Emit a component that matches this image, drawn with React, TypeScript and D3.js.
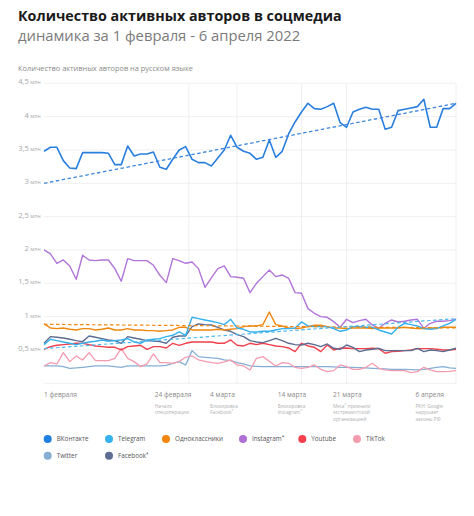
import React from "react";
import * as d3 from "d3";

const W = 474;
const H = 516;

// ---- data (millions of active authors, daily, 1 Feb – 6 Apr 2022) ----
const vkontakte = [3.48,3.54,3.54,3.34,3.23,3.22,3.46,3.46,3.46,3.46,3.45,3.28,3.28,3.56,3.41,3.44,3.44,3.47,3.24,3.21,3.36,3.5,3.55,3.36,3.31,3.31,3.26,3.38,3.5,3.72,3.54,3.48,3.45,3.36,3.39,3.65,3.39,3.48,3.74,3.92,4.07,4.2,4.12,4.11,4.15,4.2,3.91,3.84,4.07,4.11,4.14,4.11,4.11,3.81,3.84,4.09,4.11,4.13,4.15,4.26,3.84,3.84,4.12,4.12,4.2];
const telegram = [0.58,0.66,0.64,0.62,0.6,0.58,0.6,0.62,0.63,0.65,0.63,0.64,0.65,0.67,0.62,0.6,0.65,0.66,0.67,0.7,0.72,0.77,0.72,0.99,0.97,0.95,0.93,0.91,0.88,0.96,0.83,0.81,0.77,0.77,0.78,0.78,0.8,0.82,0.82,0.83,0.92,0.86,0.85,0.85,0.85,0.82,0.78,0.8,0.85,0.85,0.84,0.84,0.8,0.77,0.74,0.84,0.9,0.88,0.86,0.82,0.81,0.82,0.86,0.9,0.96];
const odnoklassniki = [0.89,0.83,0.82,0.83,0.81,0.8,0.82,0.82,0.8,0.81,0.83,0.8,0.8,0.82,0.8,0.8,0.79,0.79,0.78,0.79,0.8,0.84,0.84,0.8,0.8,0.8,0.8,0.81,0.8,0.81,0.82,0.85,0.86,0.86,0.88,1.07,0.88,0.86,0.83,0.82,0.83,0.85,0.87,0.87,0.85,0.83,0.83,0.82,0.83,0.83,0.83,0.82,0.83,0.83,0.83,0.83,0.84,0.83,0.82,0.82,0.83,0.83,0.84,0.84,0.84];
const instagram = [2.0,1.94,1.8,1.85,1.76,1.56,1.92,1.85,1.84,1.85,1.85,1.72,1.53,1.87,1.84,1.84,1.84,1.77,1.62,1.51,1.87,1.84,1.8,1.82,1.72,1.44,1.58,1.72,1.76,1.6,1.59,1.575,1.36,1.5,1.6,1.7,1.6,1.625,1.575,1.36,1.35,1.12,1.05,1.0,0.99,0.925,0.84,0.96,0.91,0.94,0.96,0.875,0.825,0.9,0.95,0.92,0.93,0.95,0.96,0.825,0.9,0.93,0.93,0.94,0.96];
const youtube = [0.51,0.55,0.57,0.58,0.59,0.6,0.6,0.58,0.56,0.55,0.54,0.54,0.5,0.55,0.56,0.57,0.51,0.55,0.55,0.53,0.6,0.57,0.6,0.62,0.62,0.62,0.62,0.6,0.6,0.65,0.57,0.56,0.6,0.58,0.6,0.58,0.56,0.55,0.53,0.475,0.6,0.56,0.54,0.475,0.575,0.5,0.525,0.53,0.52,0.52,0.52,0.525,0.52,0.45,0.475,0.48,0.49,0.5,0.52,0.52,0.52,0.51,0.5,0.5,0.51];
const tiktok = [0.26,0.31,0.29,0.46,0.325,0.41,0.35,0.46,0.34,0.34,0.34,0.375,0.525,0.375,0.325,0.25,0.29,0.44,0.31,0.31,0.3,0.325,0.39,0.41,0.35,0.33,0.31,0.3,0.32,0.35,0.275,0.26,0.2,0.375,0.4,0.33,0.26,0.31,0.3,0.24,0.225,0.24,0.275,0.21,0.175,0.19,0.275,0.25,0.21,0.21,0.24,0.3,0.225,0.2,0.19,0.19,0.19,0.16,0.175,0.24,0.2,0.175,0.175,0.18,0.19];
const twitter = [0.26,0.26,0.26,0.25,0.225,0.23,0.24,0.25,0.26,0.26,0.26,0.25,0.24,0.26,0.26,0.26,0.26,0.26,0.26,0.27,0.3,0.325,0.275,0.49,0.4,0.39,0.38,0.375,0.35,0.34,0.31,0.29,0.26,0.255,0.25,0.25,0.25,0.25,0.25,0.25,0.25,0.25,0.25,0.25,0.25,0.245,0.24,0.24,0.24,0.235,0.23,0.225,0.22,0.215,0.21,0.21,0.21,0.205,0.2,0.21,0.225,0.24,0.25,0.23,0.225];
const facebook = [0.6,0.7,0.69,0.68,0.66,0.64,0.625,0.71,0.69,0.67,0.65,0.64,0.6,0.7,0.68,0.66,0.64,0.635,0.625,0.6,0.69,0.71,0.71,0.85,0.89,0.88,0.875,0.84,0.8,0.78,0.73,0.7,0.64,0.62,0.61,0.64,0.675,0.64,0.6,0.58,0.575,0.6,0.58,0.55,0.59,0.525,0.51,0.575,0.54,0.475,0.5,0.51,0.525,0.49,0.49,0.49,0.49,0.49,0.525,0.475,0.5,0.49,0.475,0.5,0.525];

// trend lines (start, end)
const vkTrend = [3.0, 4.2];
const telegramTrend = [0.52, 0.97];
const okTrend = [0.885, 0.83];

const yTicks = [0.5, 1, 1.5, 2, 2.5, 3, 3.5, 4, 4.5];
const yTickLabels = ["0,5", "1", "1,5", "2", "2,5", "3", "3,5", "4", "4,5"];
const gridDays = [22.5, 30, 40, 47, 64];
const xLabels = ["1 февраля", "24 февраля", "4 марта", "14 марта", "21 марта", "6 апреля"];
const xNotes = [
  [],
  ["Начало", "спецоперации"],
  ["Блокировка", "Facebook*"],
  ["Блокировка", "Instagram*"],
  ["Meta* признали", "экстремистской", "организацией"],
  ["РКН: Google", "нарушает", "законы РФ"],
];
const legendNames = ["ВКонтакте", "Telegram", "Одноклассники", "Instagram*", "Youtube", "TikTok", "Twitter", "Facebook*"];
const legendColors = ["#1f7fe3", "#38b2ee", "#f0850f", "#b071d6", "#f3404c", "#f59bb0", "#85aed4", "#5d6d91"];

// layout (not data)
const xLabelDay = [0, 17.2, 25.8, 36.3, 44.9, 57.7];
const legendX = [47.7, 109, 166, 243, 302.3, 357, 47.7, 109];
const legendRow = [0, 0, 0, 0, 0, 0, 1, 1];

const FONT = "'Open Sans', sans-serif";

function Starred({ text }: { text: string }) {
  const parts = text.split("*");
  const out: React.ReactNode[] = [];
  parts.forEach((p, i) => {
    if (p) out.push(<tspan key={"p" + i}>{p}</tspan>);
    if (i < parts.length - 1)
      out.push(
        <tspan key={"s" + i} baselineShift="40%" fontSize="0.75em">
          *
        </tspan>
      );
  });
  return <>{out}</>;
}

export default function App() {
  const x = d3.scaleLinear().domain([0, 64]).range([44, 456]);
  const y = d3.scaleLinear().domain([0, 4.5]).range([383.3, 83.3]);
  const line = (vals: number[]) =>
    d3.line<number>().x((_, i) => x(i)).y((v) => y(v))(vals) || "";
  const trend = (t: number[]) =>
    d3.line<number>().x((_, i) => x(i === 0 ? 0 : 64)).y((v) => y(v))(t) || "";

  const series = [
    { v: twitter, c: "#85aed4", w: 1.3 },
    { v: tiktok, c: "#f59bb0", w: 1.3 },
    { v: youtube, c: "#f0404c", w: 1.4 },
    { v: facebook, c: "#5d6d91", w: 1.4 },
    { v: instagram, c: "#b174d8", w: 1.4 },
    { v: odnoklassniki, c: "#f0870f", w: 1.4 },
    { v: telegram, c: "#35b1ee", w: 1.4 },
    { v: vkontakte, c: "#2a7fde", w: 1.6 },
  ];

  return (
    <svg
      width={W}
      height={H}
      style={{ position: "absolute", left: 0, top: 0, background: "#fff" }}
      fontFamily={FONT}
    >
      <rect width={W} height={H} fill="#fff" />
      <text x={18} y={21} fontSize={14.3} fontWeight={700} fill="#1a1a1a">
        Количество активных авторов в соцмедиа
      </text>
      <text x={18} y={40.5} fontSize={14.8} fill="#7b7b7b">
        динамика за 1 февраля - 6 апреля 2022
      </text>
      <text x={18} y={71} fontSize={7.4} fill="#8a8a8a">
        Количество активных авторов на русском языке
      </text>

      {/* grid */}
      {[0, ...yTicks].map((t) => (
        <line key={"h" + t} x1={x(0)} x2={x(64)} y1={y(t)} y2={y(t)} stroke="#ececec" strokeWidth={0.8} />
      ))}
      {gridDays.map((d) => (
        <line key={"v" + d} x1={x(d)} x2={x(d)} y1={y(4.5)} y2={y(0)} stroke="#ececec" strokeWidth={0.8} />
      ))}

      {/* y tick labels */}
      {yTicks.map((t, i) => (
        <text key={"yl" + t} x={40.5} y={y(t) + 1} textAnchor="end" fill="#a8a8a8" fontSize={7.6}>
          {yTickLabels[i]}
          <tspan fontSize={5.3}> млн</tspan>
        </text>
      ))}

      {/* series */}
      {series.map((s, k) => (
        <path key={"s" + k} d={line(s.v)} fill="none" stroke={s.c} strokeWidth={s.w} strokeLinejoin="round" />
      ))}
      <path d={trend(okTrend)} fill="none" stroke="#f0870f" strokeWidth={1.2} strokeDasharray="3.5 2.5" />
      <path d={trend(telegramTrend)} fill="none" stroke="#4cb9f0" strokeWidth={1.2} strokeDasharray="3.5 2.5" />
      <path d={trend(vkTrend)} fill="none" stroke="#3d86dc" strokeWidth={1.3} strokeDasharray="3.5 2.5" />

      {/* x labels */}
      {xLabels.map((l, i) => (
        <g key={"xl" + i}>
          <text x={x(xLabelDay[i])} y={397} fontSize={6.6} fill="#8a8a8a">
            {l}
          </text>
          {xNotes[i].map((n, j) => (
            <text key={j} x={x(xLabelDay[i])} y={407.5 + j * 6.7} fontSize={4.8} fill="#b0b0b0">
              <Starred text={n} />
            </text>
          ))}
        </g>
      ))}

      {/* legend */}
      {legendNames.map((n, i) => {
        const cy = 439 + legendRow[i] * 16.7;
        return (
          <g key={"lg" + i}>
            <circle cx={legendX[i]} cy={cy} r={4} fill={legendColors[i]} />
            <text x={legendX[i] + 9} y={cy + 2.3} fontSize={6.3} fill="#555">
              <Starred text={n} />
            </text>
          </g>
        );
      })}
    </svg>
  );
}
